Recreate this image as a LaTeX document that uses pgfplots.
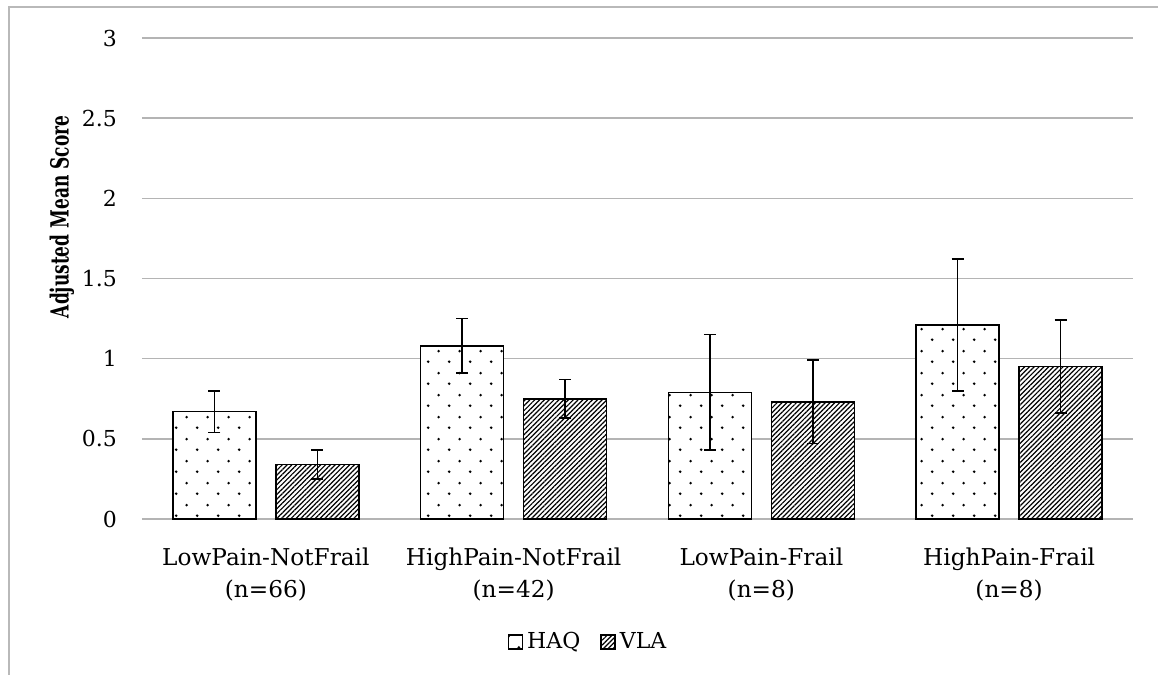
\documentclass[border=0pt]{standalone}
\usepackage{fontspec}
\setmainfont{DejaVu Serif}
\newfontfamily\condfont{DejaVu Serif}[FakeStretch=0.68]
\usepackage{pgfplots}
\pgfplotsset{compat=1.18}
\usetikzlibrary{patterns,patterns.meta}
\tikzdeclarepattern{
  name=sparsedots,
  type=uncolored,
  bottom left={(0pt,0pt)},
  top right={(10.7pt,11pt)},
  tile size={(10.7pt,11pt)},
  code={
    \fill (2.675pt,2.75pt) circle (0.75pt);
    \fill (8.025pt,8.25pt) circle (0.75pt);
  }
}
\definecolor{gridgray}{RGB}{180,180,180}
\definecolor{framegray}{RGB}{185,185,185}
\pgfplotstableread{
x y err
0 0.67 0.13
1 1.08 0.17
2 0.79 0.36
3 1.21 0.41
}\haq
\pgfplotstableread{
x y err
0 0.34 0.09
1 0.75 0.12
2 0.73 0.26
3 0.95 0.29
}\vla
\begin{document}
\begin{tikzpicture}
\useasboundingbox (-71pt,-78pt) rectangle (508pt,259.5pt);
\draw[framegray, line width=1pt] (-66.5pt,-90pt) -- (-66.5pt,255.75pt) -- (520pt,255.75pt);
\begin{axis}[
  scale only axis,
  width=495.5pt, height=240.5pt,
  ymin=0, ymax=3,
  xmin=-0.5, xmax=3.5,
  ybar=10pt, bar width=41.5pt,
  ytick={0,0.5,...,3},
  xtick={0,1,2,3},
  xticklabels={{LowPain-NotFrail\\(n=66)},{HighPain-NotFrail\\(n=42)},{LowPain-Frail\\(n=8)},{HighPain-Frail\\(n=8)}},
  major tick length=0pt,
  axis line style={draw=none},
  ymajorgrids,
  grid style={gridgray, line width=0.8pt},
  /pgf/number format/assume math mode=true,
  yticklabel style={font={\fontsize{11}{12}\selectfont}, xshift=-9pt},
  xticklabel style={font={\fontsize{11.6}{16}\selectfont}, align=center, yshift=-11pt},
  ylabel={\condfont\bfseries Adjusted Mean Score},
  ylabel style={at={(rel axis cs:-0.0807,0.628)}, anchor=center, font={\fontsize{12.5}{14}\selectfont}},
  legend columns=2,
  legend style={at={(rel axis cs:0.451,-0.2557)}, anchor=center, draw=none, fill=none,
    font={\fontsize{11}{12}\selectfont},
    /tikz/every even column/.append style={column sep=8pt}},
  legend image code/.code={\draw[#1] (0pt,-3.5pt) rectangle (7pt,3.5pt);},
  error bars/error bar style={line width=0.8pt, black},
  error bars/error mark options={line width=0.8pt, black, mark size=3pt, rotate=90},
]
\addplot[draw=black, line width=0.8pt, fill=white, postaction={pattern=sparsedots, pattern color=black},
  error bars/.cd, y dir=both, y explicit] table[x=x, y=y, y error=err] {\haq};
\addlegendentry{HAQ}
\addplot[draw=black, line width=0.8pt, fill=white, postaction={pattern={Lines[angle=45,distance=1.7pt,line width=0.6pt]}, pattern color=black},
  error bars/.cd, y dir=both, y explicit] table[x=x, y=y, y error=err] {\vla};
\addlegendentry{VLA}
\end{axis}
\end{tikzpicture}
\end{document}
